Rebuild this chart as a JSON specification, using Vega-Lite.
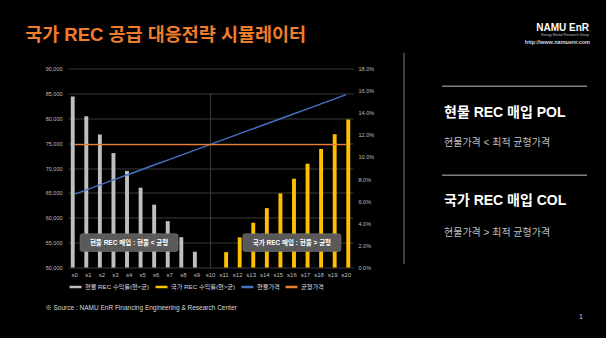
{
  "$schema": "https://vega.github.io/schema/vega-lite/v6.json",
  "background": "#000000",
  "padding": {"left": 25, "top": 22.5, "right": 10, "bottom": 20},
  "spacing": 29,
  "resolve": {"scale": {"color": "independent"}, "legend": {"color": "independent"}},
  "datasets": {
    "bars": [
      {"s": "s0", "series": "현물 REC 수익률(현<균)", "ret": 0.1546},
      {"s": "s1", "series": "현물 REC 수익률(현<균)", "ret": 0.1368},
      {"s": "s2", "series": "현물 REC 수익률(현<균)", "ret": 0.1202},
      {"s": "s3", "series": "현물 REC 수익률(현<균)", "ret": 0.1035},
      {"s": "s4", "series": "현물 REC 수익률(현<균)", "ret": 0.0874},
      {"s": "s5", "series": "현물 REC 수익률(현<균)", "ret": 0.0722},
      {"s": "s6", "series": "현물 REC 수익률(현<균)", "ret": 0.0568},
      {"s": "s7", "series": "현물 REC 수익률(현<균)", "ret": 0.0419},
      {"s": "s8", "series": "현물 REC 수익률(현<균)", "ret": 0.0274},
      {"s": "s9", "series": "현물 REC 수익률(현<균)", "ret": 0.0142},
      {"s": "s11", "series": "국가 REC 수익률(현>균)", "ret": 0.0139},
      {"s": "s12", "series": "국가 REC 수익률(현>균)", "ret": 0.0272},
      {"s": "s13", "series": "국가 REC 수익률(현>균)", "ret": 0.0405},
      {"s": "s14", "series": "국가 REC 수익률(현>균)", "ret": 0.0537},
      {"s": "s15", "series": "국가 REC 수익률(현>균)", "ret": 0.0670},
      {"s": "s16", "series": "국가 REC 수익률(현>균)", "ret": 0.0803},
      {"s": "s17", "series": "국가 REC 수익률(현>균)", "ret": 0.0939},
      {"s": "s18", "series": "국가 REC 수익률(현>균)", "ret": 0.1072},
      {"s": "s19", "series": "국가 REC 수익률(현>균)", "ret": 0.1205},
      {"s": "s20", "series": "국가 REC 수익률(현>균)", "ret": 0.1338}
    ],
    "prices": [
      {"s": "s0", "series": "현물가격", "price": 64750},
      {"s": "s1", "series": "현물가격", "price": 65750},
      {"s": "s2", "series": "현물가격", "price": 66750},
      {"s": "s3", "series": "현물가격", "price": 67750},
      {"s": "s4", "series": "현물가격", "price": 68750},
      {"s": "s5", "series": "현물가격", "price": 69750},
      {"s": "s6", "series": "현물가격", "price": 70750},
      {"s": "s7", "series": "현물가격", "price": 71750},
      {"s": "s8", "series": "현물가격", "price": 72750},
      {"s": "s9", "series": "현물가격", "price": 73750},
      {"s": "s10", "series": "현물가격", "price": 74750},
      {"s": "s11", "series": "현물가격", "price": 75750},
      {"s": "s12", "series": "현물가격", "price": 76750},
      {"s": "s13", "series": "현물가격", "price": 77750},
      {"s": "s14", "series": "현물가격", "price": 78750},
      {"s": "s15", "series": "현물가격", "price": 79750},
      {"s": "s16", "series": "현물가격", "price": 80750},
      {"s": "s17", "series": "현물가격", "price": 81750},
      {"s": "s18", "series": "현물가격", "price": 82750},
      {"s": "s19", "series": "현물가격", "price": 83750},
      {"s": "s20", "series": "현물가격", "price": 84750},
      {"s": "s0", "series": "균형가격", "price": 74700},
      {"s": "s1", "series": "균형가격", "price": 74700},
      {"s": "s2", "series": "균형가격", "price": 74700},
      {"s": "s3", "series": "균형가격", "price": 74700},
      {"s": "s4", "series": "균형가격", "price": 74700},
      {"s": "s5", "series": "균형가격", "price": 74700},
      {"s": "s6", "series": "균형가격", "price": 74700},
      {"s": "s7", "series": "균형가격", "price": 74700},
      {"s": "s8", "series": "균형가격", "price": 74700},
      {"s": "s9", "series": "균형가격", "price": 74700},
      {"s": "s10", "series": "균형가격", "price": 74700},
      {"s": "s11", "series": "균형가격", "price": 74700},
      {"s": "s12", "series": "균형가격", "price": 74700},
      {"s": "s13", "series": "균형가격", "price": 74700},
      {"s": "s14", "series": "균형가격", "price": 74700},
      {"s": "s15", "series": "균형가격", "price": 74700},
      {"s": "s16", "series": "균형가격", "price": 74700},
      {"s": "s17", "series": "균형가격", "price": 74700},
      {"s": "s18", "series": "균형가격", "price": 74700},
      {"s": "s19", "series": "균형가격", "price": 74700},
      {"s": "s20", "series": "균형가격", "price": 74700}
    ],
    "notes": [
      {"s": "s4", "label": "현물 REC 매입 : 현물 < 균형"},
      {"s": "s16", "label": "국가 REC 매입 : 현물 > 균형"}
    ]
  },
  "hconcat": [
    {
      "title": {
        "text": "국가 REC 공급 대응전략 시뮬레이터",
        "anchor": "start",
        "frame": "bounds",
        "dx": -20,
        "fontSize": 18.5,
        "fontWeight": "bold",
        "color": "#EF7D2C",
        "offset": 22
      },
      "resolve": {"scale": {"color": "independent"}, "legend": {"color": "independent"}},
      "vconcat": [
        {
          "width": 285,
          "height": 199,
          "title": {
            "text": "※ Source : NAMU EnR Financing Engineering & Research Center",
            "orient": "bottom",
            "anchor": "start",
            "frame": "bounds",
            "fontSize": 6.5,
            "fontWeight": "normal",
            "color": "#d9d9d9",
            "offset": 12
          },
          "layer": [
            {
              "layer": [
                {
                  "data": {"name": "bars"},
                  "mark": {"type": "bar"},
                  "encoding": {
                    "x": {
                      "field": "s", "type": "nominal", "title": null,
                      "scale": {"domain": ["s0","s1","s2","s3","s4","s5","s6","s7","s8","s9","s10","s11","s12","s13","s14","s15","s16","s17","s18","s19","s20"], "paddingInner": 0.41, "paddingOuter": 0.205},
                      "axis": {"labelAngle": 0, "labelFontSize": 6, "labelPadding": 4, "grid": false, "labelOverlap": false}
                    },
                    "xOffset": {"field": "series", "type": "nominal", "scale": {"domain": ["현물 REC 수익률(현<균)", "국가 REC 수익률(현>균)"], "paddingInner": 0.05}},
                    "y": {
                      "field": "ret", "type": "quantitative", "title": null,
                      "scale": {"domain": [0, 0.18]},
                      "axis": {"orient": "right", "values": [0, 0.02, 0.04, 0.06, 0.08, 0.1, 0.12, 0.14, 0.16, 0.18], "labelExpr": "format(datum.value, '.1%')", "grid": false, "labelPadding": 5, "labelOverlap": false}
                    },
                    "color": {
                      "field": "series", "type": "nominal",
                      "scale": {"domain": ["현물 REC 수익률(현<균)", "국가 REC 수익률(현>균)", "현물가격", "균형가격"], "range": ["#BFBFBF", "#FFC000", "#4472C4", "#ED7D31"]},
                      "legend": {"orient": "bottom", "direction": "horizontal", "title": null, "symbolType": "stroke", "symbolStrokeWidth": 2.5, "symbolSize": 144, "labelFontSize": 6.2, "labelColor": "#d9d9d9", "columnPadding": 0, "labelOffset": 2, "offset": 2, "gridAlign": "none"}
                    }
                  }
                },
                {
                  "data": {"name": "notes"},
                  "mark": {"type": "bar", "width": 98, "cornerRadius": 2, "fill": "#595959", "stroke": "#7a7a7a", "strokeWidth": 0.6},
                  "encoding": {
                    "x": {"field": "s", "type": "nominal"},
                    "y": {"datum": 0.0145, "type": "quantitative", "axis": {"orient": "right", "values": [0, 0.02, 0.04, 0.06, 0.08, 0.1, 0.12, 0.14, 0.16, 0.18], "labelExpr": "format(datum.value, '.1%')", "grid": false, "labelPadding": 5, "labelOverlap": false}},
                    "y2": {"datum": 0.0305}
                  }
                },
                {
                  "data": {"name": "notes"},
                  "mark": {"type": "text", "fontSize": 6.5, "fontWeight": "bold", "color": "#ffffff", "baseline": "middle"},
                  "encoding": {
                    "x": {"field": "s", "type": "nominal"},
                    "y": {"datum": 0.0225, "type": "quantitative", "axis": {"orient": "right", "values": [0, 0.02, 0.04, 0.06, 0.08, 0.1, 0.12, 0.14, 0.16, 0.18], "labelExpr": "format(datum.value, '.1%')", "grid": false, "labelPadding": 5, "labelOverlap": false}},
                    "text": {"field": "label"}
                  }
                }
              ]
            },
            {
              "layer": [
                {
                  "data": {"values": [{}]},
                  "mark": {"type": "rule", "color": "#3a3a3a", "strokeWidth": 1},
                  "encoding": {
                    "x": {"datum": "s10", "type": "nominal"},
                    "y": {
                      "datum": 85000, "type": "quantitative", "title": null,
                      "scale": {"domain": [50000, 90000]},
                      "axis": {"orient": "left", "values": [50000, 55000, 60000, 65000, 70000, 75000, 80000, 85000, 90000], "labelExpr": "format(datum.value, ',')", "grid": true, "gridColor": "#3a3a3a", "gridWidth": 1, "labelPadding": 6, "labelOverlap": false}
                    },
                    "y2": {"datum": 50000}
                  }
                },
                {
                  "data": {"name": "prices"},
                  "mark": {"type": "line", "strokeWidth": 1.4},
                  "encoding": {
                    "x": {"field": "s", "type": "nominal"},
                    "y": {
                      "field": "price", "type": "quantitative", "title": null,
                      "axis": {"orient": "left", "values": [50000, 55000, 60000, 65000, 70000, 75000, 80000, 85000, 90000], "labelExpr": "format(datum.value, ',')", "grid": true, "gridColor": "#3a3a3a", "gridWidth": 1, "labelPadding": 6, "labelOverlap": false}
                    },
                    "color": {
                      "field": "series", "type": "nominal",
                      "scale": {"domain": ["현물 REC 수익률(현<균)", "국가 REC 수익률(현>균)", "현물가격", "균형가격"], "range": ["#BFBFBF", "#FFC000", "#4472C4", "#ED7D31"]}
                    }
                  }
                }
              ]
            }
          ],
          "resolve": {"scale": {"y": "independent"}, "axis": {"y": "independent"}}
        }
      ]
    },
    {
      "width": 200,
      "height": 300,
      "layer": [
        {
          "data": {"values": [{}]},
          "mark": {"type": "rule", "color": "#7f7f7f", "strokeWidth": 1},
          "encoding": {
            "x": {"datum": 0, "type": "quantitative", "scale": {"domain": [0, 1]}, "axis": null},
            "y": {"datum": -5.2, "type": "quantitative", "scale": {"domain": [0, 100], "reverse": true}, "axis": null},
            "y2": {"datum": 65.1}
          }
        },
        {
          "data": {"values": [{}]},
          "mark": {"type": "rule", "color": "#7f7f7f", "strokeWidth": 1.5},
          "encoding": {
            "x": {"datum": 0.19, "type": "quantitative", "axis": null},
            "x2": {"datum": 0.915},
            "y": {"datum": 5.9, "type": "quantitative", "axis": null}
          }
        },
        {
          "data": {"values": [{}]},
          "mark": {"type": "rule", "color": "#7f7f7f", "strokeWidth": 1.5},
          "encoding": {
            "x": {"datum": 0.19, "type": "quantitative", "axis": null},
            "x2": {"datum": 0.915},
            "y": {"datum": 35.57, "type": "quantitative", "axis": null}
          }
        },
        {
          "data": {"values": [{"t": "현물 REC 매입 POL"}]},
          "mark": {"type": "text", "align": "left", "baseline": "middle", "fontSize": 14, "fontWeight": "bold", "color": "#ffffff"},
          "encoding": {
            "x": {"datum": 0.2, "type": "quantitative", "axis": null},
            "y": {"datum": 14.9, "type": "quantitative", "axis": null},
            "text": {"field": "t"}
          }
        },
        {
          "data": {"values": [{"t": "현물가격 < 최적 균형가격"}]},
          "mark": {"type": "text", "align": "left", "baseline": "middle", "fontSize": 10, "color": "#bfbfbf"},
          "encoding": {
            "x": {"datum": 0.2, "type": "quantitative", "axis": null},
            "y": {"datum": 24.9, "type": "quantitative", "axis": null},
            "text": {"field": "t"}
          }
        },
        {
          "data": {"values": [{"t": "국가 REC 매입 COL"}]},
          "mark": {"type": "text", "align": "left", "baseline": "middle", "fontSize": 14, "fontWeight": "bold", "color": "#ffffff"},
          "encoding": {
            "x": {"datum": 0.2, "type": "quantitative", "axis": null},
            "y": {"datum": 44.2, "type": "quantitative", "axis": null},
            "text": {"field": "t"}
          }
        },
        {
          "data": {"values": [{"t": "현물가격 > 최적 균형가격"}]},
          "mark": {"type": "text", "align": "left", "baseline": "middle", "fontSize": 10, "color": "#bfbfbf"},
          "encoding": {
            "x": {"datum": 0.2, "type": "quantitative", "axis": null},
            "y": {"datum": 54.9, "type": "quantitative", "axis": null},
            "text": {"field": "t"}
          }
        },
        {
          "data": {"values": [{"t": "NAMU EnR"}]},
          "mark": {"type": "text", "align": "right", "baseline": "middle", "fontSize": 10, "fontWeight": "bold", "color": "#ffffff"},
          "encoding": {
            "x": {"datum": 0.925, "type": "quantitative", "axis": null},
            "y": {"datum": -13.53, "type": "quantitative", "axis": null},
            "text": {"field": "t"}
          }
        },
        {
          "data": {"values": [{"t": "Energy Market Research Group"}]},
          "mark": {"type": "text", "align": "right", "baseline": "middle", "fontSize": 3.4, "color": "#bfbfbf"},
          "encoding": {
            "x": {"datum": 0.925, "type": "quantitative", "axis": null},
            "y": {"datum": -11.3, "type": "quantitative", "axis": null},
            "text": {"field": "t"}
          }
        },
        {
          "data": {"values": [{"t": "http://www.namuenr.com"}]},
          "mark": {"type": "text", "align": "right", "baseline": "middle", "fontSize": 5.5, "fontWeight": "bold", "color": "#d9d9d9"},
          "encoding": {
            "x": {"datum": 0.93, "type": "quantitative", "axis": null},
            "y": {"datum": -8.87, "type": "quantitative", "axis": null},
            "text": {"field": "t"}
          }
        },
        {
          "data": {"values": [{"t": "1"}]},
          "mark": {"type": "text", "align": "center", "baseline": "middle", "fontSize": 7, "color": "#d9d9d9"},
          "encoding": {
            "x": {"datum": 0.885, "type": "quantitative", "axis": null},
            "y": {"datum": 82.8, "type": "quantitative", "axis": null},
            "text": {"field": "t"}
          }
        }
      ]
    }
  ],
  "config": {
    "font": "Liberation Sans, Noto Sans CJK KR",
    "view": {"stroke": null},
    "axis": {"ticks": false, "domain": false, "labelColor": "#bfbfbf", "labelFontSize": 5.5, "labelFont": "Liberation Sans, Noto Sans CJK KR"},
    "legend": {"labelFont": "Liberation Sans, Noto Sans CJK KR"},
    "title": {"font": "Liberation Sans, Noto Sans CJK KR"}
  }
}
